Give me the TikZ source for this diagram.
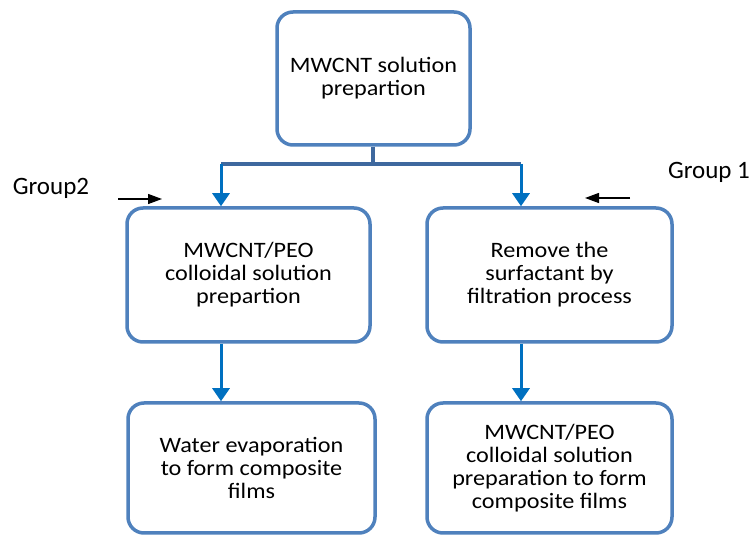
\documentclass[tikz,border=0pt]{standalone}
\usepackage{fontspec}
\setmainfont{Carlito}
\newfontfamily\boxfont[FakeStretch=1.1]{Carlito}
\usetikzlibrary{arrows.meta}
\definecolor{boxblue}{RGB}{79,129,189}
\definecolor{arrowblue}{RGB}{0,112,192}
\definecolor{barblue}{RGB}{62,104,158}
\tikzset{
  stepbox/.style={draw=boxblue, line width=3.5pt, rounded corners=16pt, fill=white,
    align=center, font=\boxfont\fontsize{22}{23}\selectfont, inner sep=2pt},
  flow/.style={draw=arrowblue, line width=3pt, -{Triangle[length=13pt,width=17pt]}},
  grouparrow/.style={draw=black, line width=1.3pt, -{Triangle[length=14pt,width=10pt]}},
  grouplabel/.style={font=\fontsize{25}{28}\selectfont}
}
\begin{document}
\begin{tikzpicture}[x=1pt,y=-1pt]
        \useasboundingbox (0,0) rectangle (756,537);
        %% boxes
        \node[stepbox, minimum width=193pt, minimum height=133pt] (prep) at (373.5,78.5) {MWCNT solution\\prepartion};
        \node[stepbox, minimum width=243pt, minimum height=134pt] (colloid) at (248.5,275) {MWCNT/PEO\\colloidal solution\\prepartion};
        \node[stepbox, minimum width=245pt, minimum height=134pt] (remove) at (549.5,275) {Remove the\\surfactant by\\filtration process};
        \node[stepbox, minimum width=247pt, minimum height=130pt] (water) at (251.5,468) {Water evaporation\\to form composite\\films};
        \node[stepbox, minimum width=245pt, minimum height=130pt] (film) at (549.5,468) {MWCNT/PEO\\colloidal solution\\preparation to form\\composite films};
        %% branch
        \coordinate (split) at (373,164);
        \coordinate (splitL) at (221,164);
        \coordinate (splitR) at (521,164);
        \draw[barblue, line width=3.5pt] (prep.south -| split) -- (split);
        \draw[barblue, line width=3.5pt] (splitL) -- (splitR);
        \draw[flow] (splitL) -- (splitL |- colloid.north);
        \draw[flow] (splitR) -- (splitR |- remove.north);
        \draw[flow] (colloid.south -| splitL) -- (water.north -| splitL);
        \draw[flow] (remove.south -| splitR) -- (film.north -| splitR);
        %% groups
        \node[grouplabel] (g2) at (51,188) {Group2};
        \node[grouplabel] (g1) at (709,172) {Group 1};
        \coordinate (g2tail) at (118,199);
        \coordinate (g2head) at (162,199);
        \coordinate (g1tail) at (630,198);
        \coordinate (g1head) at (585,198);
        \draw[grouparrow] (g2tail) -- (g2head);
        \draw[grouparrow] (g1tail) -- (g1head);
    \end{tikzpicture}
\end{document}
